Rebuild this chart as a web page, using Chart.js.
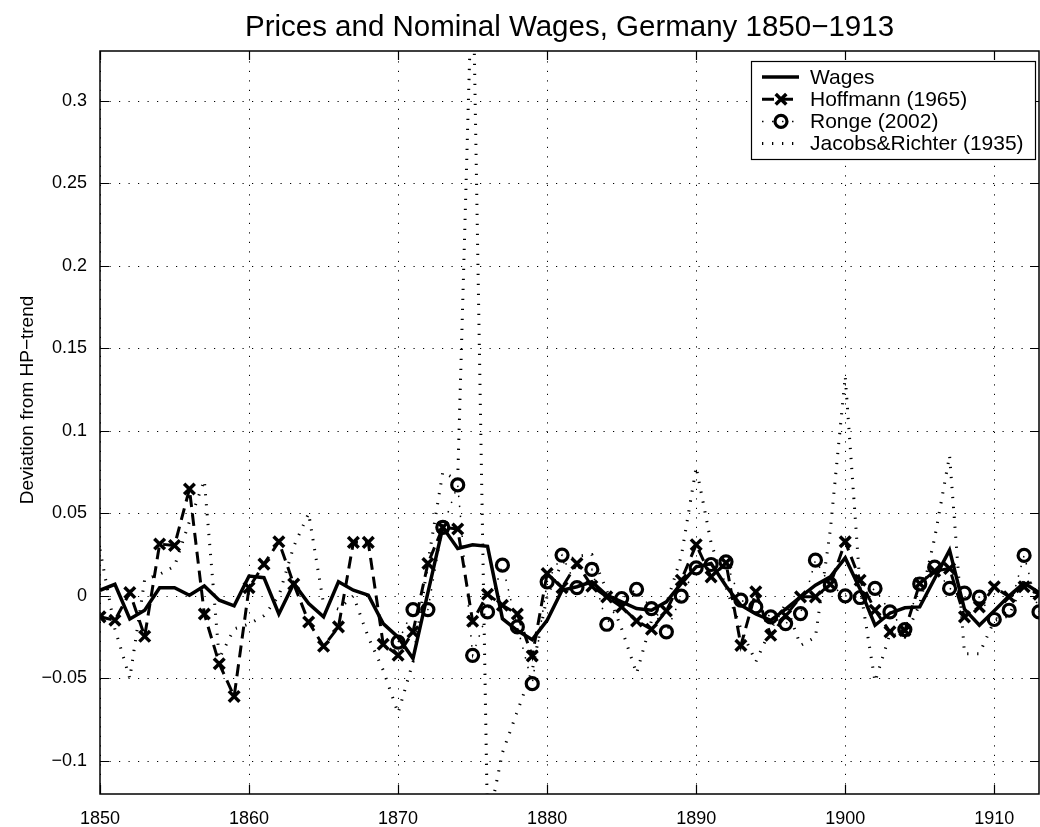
<!DOCTYPE html>
<html><head><meta charset="utf-8">
<script src="https://cdn.jsdelivr.net/npm/chart.js@4.4.1/dist/chart.umd.min.js"></script>
<style>
html,body{margin:0;padding:0;background:#fff;overflow:hidden;width:1040px;height:827px}
#wrap{position:absolute;left:0;top:0;width:1050px;height:827px}
</style></head>
<body><div id="wrap"><canvas id="c" width="1050" height="827"></canvas></div>
<script>
const years = [1850,1851,1852,1853,1854,1855,1856,1857,1858,1859,
  1860,1861,1862,1863,1864,1865,1866,1867,1868,1869,
  1870,1871,1872,1873,1874,1875,1876,1877,1878,1879,
  1880,1881,1882,1883,1884,1885,1886,1887,1888,1889,
  1890,1891,1892,1893,1894,1895,1896,1897,1898,1899,
  1900,1901,1902,1903,1904,1905,1906,1907,1908,1909,
  1910,1911,1912,1913];
const wages = [0.0034,0.007,-0.014,-0.0087,0.0049,0.0049,0.0004,0.006,-0.0026,-0.006,
  0.012,0.011,-0.011,0.0075,-0.0047,-0.0127,0.0085,0.0034,0.0004,-0.0168,
  -0.025,-0.038,0.002,0.0415,0.0287,0.031,0.030,-0.0138,-0.021,-0.0265,
  -0.0148,0.0034,0.0055,0.0085,0.0004,-0.0036,-0.0077,-0.0087,-0.0036,0.0075,
  0.0176,0.0196,0.006,-0.0057,-0.011,-0.0148,-0.008,-0.0006,0.0065,0.0115,
  0.023,0.004,-0.0178,-0.0105,-0.0072,-0.0067,0.0105,0.0277,-0.008,-0.0178,
  -0.009,0.0,0.0078,0.002];
const hoffmann = [-0.0127,-0.0148,0.002,-0.0245,0.0314,0.0305,0.0647,-0.011,-0.0411,-0.0609,
  0.0049,0.0192,0.0328,0.0071,-0.0158,-0.0305,-0.0188,0.0324,0.0324,-0.0293,
  -0.036,-0.0218,0.0196,0.0415,0.0405,-0.0154,0.001,-0.0057,-0.011,-0.0364,
  0.0135,0.005,0.0196,0.0059,-0.0006,-0.0067,-0.0152,-0.0202,-0.0091,0.0095,
  0.031,0.0115,0.02,-0.030,0.0024,-0.0239,-0.012,-0.0006,-0.0006,0.007,
  0.0328,0.0095,-0.0087,-0.0218,-0.021,0.0075,0.015,0.0166,-0.0127,-0.0067,
  0.0055,-0.0006,0.0055,0.001];
const ronge = [null,null,null,null,null,null,null,null,null,null,
  null,null,null,null,null,null,null,null,null,null,
  -0.028,-0.0083,-0.0083,0.0415,0.0672,-0.036,-0.0097,0.0186,-0.0188,-0.0532,
  0.0085,0.0247,0.005,0.016,-0.0172,-0.0016,0.004,-0.0077,-0.0218,-0.0002,
  0.017,0.019,0.0206,-0.0026,-0.0067,-0.0127,-0.0168,-0.0107,0.0216,0.0065,
  0.0,-0.001,0.0045,-0.0097,-0.0204,0.0072,0.0174,0.0045,0.0016,-0.0008,
  -0.0143,-0.0087,0.0245,-0.0097];
const jacobs = [0.028,-0.02,-0.05,0.01,0.013,0.018,0.045,0.07,-0.038,-0.02,
  -0.017,-0.012,0.0,0.03,0.05,-0.005,-0.008,0.0,-0.025,-0.045,
  -0.071,-0.04,0.02,0.075,0.07,0.39,-0.14,-0.095,-0.07,-0.045,
  0.0,0.02,0.024,0.025,0.003,-0.02,-0.047,-0.015,-0.005,0.024,
  0.078,0.032,0.005,-0.02,-0.04,-0.02,-0.005,-0.03,-0.025,0.04,
  0.133,0.005,-0.052,-0.023,-0.025,-0.005,0.035,0.085,-0.035,-0.035,
  -0.015,-0.012,0.01,0.005];
const seriesNames = ['Wages','Hoffmann (1965)','Ronge (2002)','Jacobs&Richter (1935)'];
const xTicks = [1850,1860,1870,1880,1890,1900,1910];
const yTicks = [-0.1,-0.05,0,0.05,0.1,0.15,0.2,0.25,0.3];
const yTickLabels = ['\u22120.1','\u22120.05','0','0.05','0.1','0.15','0.2','0.25','0.3'];
const titleText = 'Prices and Nominal Wages, Germany 1850\u22121913';
const yAxisTitle = 'Deviation from HP\u2212trend';

const FONT = "'Liberation Sans', Arial, Helvetica, sans-serif";
const toPts = arr => years.map((yr, i) => ({x: yr, y: arr[i]}));

function drawMarker(ctx, style, x, y, r, w) {
  ctx.save();
  ctx.setLineDash([]);
  ctx.lineWidth = w;
  ctx.strokeStyle = '#000';
  ctx.beginPath();
  if (style === 'crossRot') {
    const d = r * Math.SQRT1_2;
    ctx.moveTo(x - d, y - d); ctx.lineTo(x + d, y + d);
    ctx.moveTo(x + d, y - d); ctx.lineTo(x - d, y + d);
  } else {
    ctx.arc(x, y, r, 0, Math.PI * 2);
  }
  ctx.stroke();
  ctx.restore();
}

const matlabAxes = {
  id: 'matlabAxes',
  beforeDatasetsDraw(chart) {
    const {ctx, chartArea: a, scales: {x, y}} = chart;
    ctx.save();
    ctx.strokeStyle = '#000';
    ctx.lineWidth = 1;
    ctx.setLineDash([1.2, 8.3]);
    xTicks.forEach(v => {
      const px = Math.round(x.getPixelForValue(v)) + 0.5;
      ctx.beginPath(); ctx.moveTo(px, a.bottom); ctx.lineTo(px, a.top); ctx.stroke();
    });
    yTicks.forEach(v => {
      const py = Math.round(y.getPixelForValue(v)) + 0.5;
      ctx.beginPath(); ctx.moveTo(a.left, py); ctx.lineTo(a.right, py); ctx.stroke();
    });
    ctx.restore();
  },
  afterDatasetsDraw(chart) {
    const {ctx, chartArea: a, scales: {x, y}} = chart;
    ctx.save();
    ctx.setLineDash([]);
    ctx.strokeStyle = '#000';
    ctx.lineWidth = 1.5;
    ctx.strokeRect(a.left, a.top, a.right - a.left, a.bottom - a.top);
    const tl = 9;
    ctx.lineWidth = 1.2;
    xTicks.forEach(v => {
      const px = Math.round(x.getPixelForValue(v)) + 0.5;
      ctx.beginPath();
      ctx.moveTo(px, a.bottom); ctx.lineTo(px, a.bottom - tl);
      ctx.moveTo(px, a.top); ctx.lineTo(px, a.top + tl);
      ctx.stroke();
    });
    yTicks.forEach(v => {
      const py = Math.round(y.getPixelForValue(v)) + 0.5;
      ctx.beginPath();
      ctx.moveTo(a.left, py); ctx.lineTo(a.left + tl, py);
      ctx.moveTo(a.right, py); ctx.lineTo(a.right - tl, py);
      ctx.stroke();
    });
    // y-axis label
    ctx.save();
    ctx.fillStyle = '#000';
    ctx.font = '19px ' + FONT;
    ctx.textAlign = 'center';
    ctx.textBaseline = 'middle';
    ctx.translate(28, 400);
    ctx.rotate(-Math.PI / 2);
    ctx.fillText(yAxisTitle, 0, 0);
    ctx.restore();
    // legend box
    const L = 751, T = 61, R = 1035, B = 159;
    ctx.fillStyle = '#fff';
    ctx.fillRect(L, T, R - L, B - T);
    ctx.lineWidth = 1.2;
    ctx.strokeRect(L + 0.5, T + 0.5, R - L, B - T);
    chart.data.datasets.forEach((ds, i) => {
      const ry = 77 + i * 22.2;
      ctx.save();
      ctx.strokeStyle = '#000';
      ctx.lineWidth = ds.borderWidth;
      ctx.setLineDash(ds.borderDash || []);
      ctx.beginPath(); ctx.moveTo(762, ry); ctx.lineTo(799, ry); ctx.stroke();
      ctx.restore();
      if (ds.pointRadius > 0) drawMarker(ctx, ds.pointStyle, 781, ry, ds.pointRadius, ds.pointBorderWidth);
      ctx.fillStyle = '#000';
      ctx.font = '21px ' + FONT;
      ctx.textBaseline = 'middle';
      ctx.textAlign = 'left';
      ctx.fillText(ds.label, 810, ry + 1);
    });
    ctx.restore();
  }
};

new Chart(document.getElementById('c'), {
  type: 'line',
  data: {
    datasets: [
      {label: seriesNames[0], data: toPts(wages), borderColor: '#000', borderWidth: 3.5,
       pointRadius: 0, tension: 0, fill: false},
      {label: seriesNames[1], data: toPts(hoffmann), borderColor: '#000', borderWidth: 3,
       borderDash: [12, 7], pointStyle: 'crossRot', pointRadius: 7.5, pointBorderWidth: 3.5,
       pointBorderColor: '#000', pointBackgroundColor: '#000', tension: 0, fill: false},
      {label: seriesNames[2], data: toPts(ronge), borderColor: '#000', borderWidth: 1.5,
       borderDash: [1.5, 8.5], pointStyle: 'circle', pointRadius: 6, pointBorderWidth: 3.2,
       pointBorderColor: '#000', pointBackgroundColor: 'rgba(0,0,0,0)', tension: 0, fill: false, spanGaps: false},
      {label: seriesNames[3], data: toPts(jacobs), borderColor: '#000', borderWidth: 3,
       borderDash: [1.3, 8.7], pointRadius: 0, tension: 0, fill: false}
    ]
  },
  options: {
    responsive: false,
    animation: false,
    events: [],
    layout: {padding: {left: 0, right: 5, top: 0, bottom: 0}},
    scales: {
      x: {
        type: 'linear', min: 1850, max: 1913,
        grid: {display: false}, border: {display: false},
        afterBuildTicks: s => { s.ticks = xTicks.map(v => ({value: v})); },
        ticks: {autoSkip: false, maxRotation: 0, minRotation: 0, padding: 6, color: '#000',
          font: {family: FONT, size: 18}, callback: v => String(v)},
        afterFit: s => { s.height = 33; }
      },
      y: {
        type: 'linear', min: -0.12, max: 0.33,
        grid: {display: false}, border: {display: false},
        afterBuildTicks: s => { s.ticks = yTicks.map(v => ({value: v})); },
        ticks: {autoSkip: false, padding: 5, color: '#000', font: {family: FONT, size: 18},
          callback: v => { const k = yTicks.findIndex(t => Math.abs(t - v) < 1e-9); return k >= 0 ? yTickLabels[k] : ''; }},
        title: {display: false},
        afterFit: s => { s.width = 100; }
      }
    },
    plugins: {
      legend: {display: false},
      tooltip: {enabled: false},
      title: {display: true, text: titleText, fullSize: false, color: '#000',
        font: {family: FONT, size: 29.5, weight: 'normal'}, padding: {top: 10.3, bottom: 5.3}}
    }
  },
  plugins: [matlabAxes]
});
</script>
</body></html>
